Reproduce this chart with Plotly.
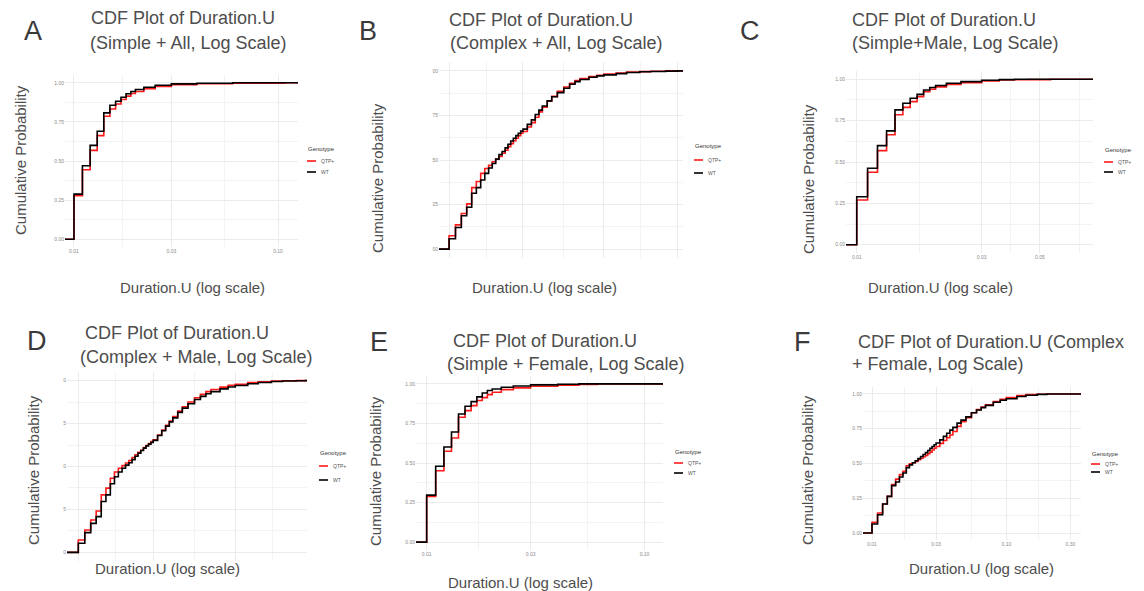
import plotly.graph_objects as go

W, H = 1144, 591
OFFSET = 8  # browser default body margin

# ---------------- data ----------------
genotypes = ["QTP+", "WT"]
y_ticks = [0, 0.25, 0.5, 0.75, 1.0]
y_ticklabels = ["0.00", "0.25", "0.50", "0.75", "1.00"]

# A: Simple + All
A_dur = [0.010, 0.011, 0.012, 0.013, 0.014, 0.015, 0.016, 0.017, 0.018, 0.019, 0.020,
         0.022, 0.025, 0.030, 0.040, 0.060, 0.108]
A_wt = [0.288, 0.470, 0.600, 0.690, 0.808, 0.857, 0.882, 0.908, 0.930, 0.944, 0.957,
        0.972, 0.984, 0.993, 0.997, 1.000, 1.000]
A_qtp = [0.278, 0.444, 0.568, 0.662, 0.786, 0.833, 0.865, 0.893, 0.915, 0.932, 0.944,
         0.962, 0.976, 0.988, 0.994, 0.997, 1.000]

# B: Complex + All
B_dur = [0.010, 0.011, 0.012, 0.013, 0.014, 0.015, 0.016, 0.017, 0.018, 0.019, 0.020,
         0.021, 0.022, 0.023, 0.024, 0.025, 0.026, 0.027, 0.028, 0.029, 0.030,
         0.032, 0.034, 0.036, 0.038, 0.040, 0.043, 0.046, 0.050, 0.055, 0.060,
         0.065, 0.070, 0.080, 0.090, 0.100, 0.120, 0.140, 0.170, 0.200, 0.250, 0.300]
B_wt = [0.058, 0.121, 0.187, 0.235, 0.313, 0.345, 0.388, 0.425, 0.455, 0.480, 0.505,
        0.530, 0.548, 0.568, 0.588, 0.607, 0.622, 0.637, 0.650, 0.662, 0.673,
        0.700, 0.725, 0.755, 0.780, 0.803, 0.832, 0.855, 0.878, 0.903, 0.925,
        0.940, 0.952, 0.964, 0.972, 0.978, 0.985, 0.991, 0.995, 0.997, 0.999, 1.000]
B_qtp = [0.075, 0.136, 0.200, 0.254, 0.345, 0.379, 0.425, 0.452, 0.470, 0.490, 0.505,
         0.520, 0.538, 0.555, 0.575, 0.592, 0.608, 0.622, 0.637, 0.650, 0.660,
         0.685, 0.710, 0.740, 0.770, 0.797, 0.830, 0.857, 0.885, 0.910, 0.930,
         0.946, 0.957, 0.968, 0.976, 0.982, 0.988, 0.993, 0.996, 0.998, 1.000, 1.000]

# C: Simple + Male
C_dur = [0.010, 0.011, 0.012, 0.013, 0.014, 0.015, 0.016, 0.017, 0.018, 0.019, 0.020,
         0.022, 0.025, 0.030, 0.035, 0.040, 0.045, 0.055]
C_wt = [0.290, 0.462, 0.599, 0.688, 0.815, 0.855, 0.885, 0.909, 0.935, 0.950, 0.962,
        0.976, 0.986, 0.994, 0.998, 1.000, 1.000, 1.000]
C_qtp = [0.270, 0.438, 0.569, 0.665, 0.786, 0.830, 0.865, 0.895, 0.925, 0.940, 0.954,
         0.968, 0.980, 0.990, 0.996, 0.997, 0.998, 1.000]

# D: Complex + Male
D_dur = [0.010, 0.011, 0.012, 0.013, 0.014, 0.015, 0.016, 0.017, 0.018, 0.019, 0.020,
         0.021, 0.022, 0.023, 0.024, 0.025, 0.026, 0.027, 0.028, 0.029, 0.030,
         0.032, 0.034, 0.036, 0.038, 0.040, 0.043, 0.046, 0.050, 0.055, 0.060,
         0.065, 0.070, 0.080, 0.090, 0.100, 0.120, 0.140, 0.170, 0.200, 0.245, 0.280]
D_wt = [0.053, 0.115, 0.169, 0.208, 0.296, 0.335, 0.400, 0.440, 0.468, 0.490, 0.508,
        0.522, 0.540, 0.560, 0.578, 0.593, 0.607, 0.620, 0.630, 0.640, 0.652,
        0.680, 0.708, 0.735, 0.760, 0.783, 0.815, 0.840, 0.865, 0.890, 0.908,
        0.923, 0.936, 0.952, 0.963, 0.971, 0.982, 0.989, 0.995, 0.998, 0.999, 1.000]
D_qtp = [0.072, 0.130, 0.189, 0.241, 0.335, 0.374, 0.432, 0.468, 0.490, 0.505, 0.520,
         0.535, 0.552, 0.568, 0.582, 0.595, 0.610, 0.622, 0.633, 0.645, 0.656,
         0.683, 0.712, 0.740, 0.765, 0.790, 0.822, 0.848, 0.875, 0.900, 0.920,
         0.936, 0.948, 0.962, 0.972, 0.979, 0.988, 0.993, 0.997, 0.999, 1.000, 1.000]

# E: Simple + Female
E_dur = [0.010, 0.011, 0.012, 0.013, 0.014, 0.015, 0.016, 0.017, 0.018, 0.019, 0.020,
         0.022, 0.025, 0.030, 0.040, 0.050, 0.061]
E_wt = [0.297, 0.479, 0.601, 0.696, 0.810, 0.859, 0.888, 0.918, 0.943, 0.958, 0.968,
        0.979, 0.987, 0.994, 0.998, 1.000, 1.000]
E_qtp = [0.289, 0.451, 0.574, 0.658, 0.789, 0.831, 0.863, 0.895, 0.913, 0.932, 0.947,
         0.964, 0.975, 0.985, 0.992, 0.996, 1.000]

# F: Complex + Female
F_dur = [0.010, 0.011, 0.012, 0.013, 0.014, 0.015, 0.016, 0.017, 0.018, 0.019, 0.020,
         0.021, 0.022, 0.023, 0.024, 0.025, 0.026, 0.027, 0.028, 0.029, 0.030,
         0.032, 0.034, 0.036, 0.038, 0.040, 0.043, 0.046, 0.050, 0.055, 0.060,
         0.065, 0.070, 0.080, 0.090, 0.100, 0.120, 0.140, 0.170, 0.200, 0.300]
F_wt = [0.065, 0.132, 0.209, 0.264, 0.341, 0.367, 0.403, 0.432, 0.470, 0.490, 0.505,
        0.520, 0.535, 0.550, 0.565, 0.578, 0.593, 0.610, 0.622, 0.635, 0.647,
        0.670, 0.695, 0.718, 0.740, 0.760, 0.790, 0.812, 0.835, 0.865, 0.885,
        0.902, 0.918, 0.940, 0.955, 0.966, 0.982, 0.991, 0.997, 1.000, 1.000]
F_qtp = [0.077, 0.144, 0.209, 0.264, 0.348, 0.388, 0.420, 0.444, 0.484, 0.497, 0.505,
         0.515, 0.527, 0.538, 0.548, 0.558, 0.570, 0.582, 0.597, 0.610, 0.622,
         0.645, 0.665, 0.685, 0.705, 0.730, 0.767, 0.800, 0.830, 0.865, 0.888,
         0.906, 0.922, 0.945, 0.962, 0.975, 0.988, 0.995, 0.998, 1.000, 1.000]

panel_letters = ["A", "B", "C", "D", "E", "F"]
panel_titles = [
    ["CDF Plot of Duration.U", "(Simple + All, Log Scale)"],
    ["CDF Plot of Duration.U", "(Complex + All, Log Scale)"],
    ["CDF Plot of Duration.U", "(Simple+Male, Log Scale)"],
    ["CDF Plot of Duration.U", "(Complex + Male, Log Scale)"],
    ["CDF Plot of Duration.U", "(Simple + Female, Log Scale)"],
    ["CDF Plot of Duration.U (Complex", "+ Female, Log Scale)"],
]
panel_data = [(A_dur, A_qtp, A_wt), (B_dur, B_qtp, B_wt), (C_dur, C_qtp, C_wt),
              (D_dur, D_qtp, D_wt), (E_dur, E_qtp, E_wt), (F_dur, F_qtp, F_wt)]

x_major = [[0.01, 0.03, 0.10], [0.01, 0.03, 0.10, 0.30], [0.01, 0.03, 0.05],
           [0.01, 0.03, 0.10, 0.30], [0.01, 0.03, 0.10], [0.01, 0.03, 0.10, 0.30]]
x_major_labels = [["0.01", "0.03", "0.10"], ["", "", "", ""], ["0.01", "0.03", "0.05"],
                  ["", "", "", ""], ["0.01", "0.03", "0.10"], ["0.01", "0.03", "0.10", "0.30"]]
x_minor = [[0.01732, 0.05477], [0.01732, 0.05477, 0.1732], [0.01732, 0.03873, 0.07071],
           [0.01732, 0.05477, 0.1732], [0.01732, 0.05477], [0.01732, 0.05477, 0.1732]]
y_labels = [y_ticklabels, ["00", "25", "50", "75", "00"], y_ticklabels,
            ["0", "5", "0", "5", "0"], y_ticklabels, y_ticklabels]

# ---------------- layout geometry (pixels in the reference picture) ----------------
areas = [(65, 298, 75, 247), (439, 683, 62, 258), (846, 1093, 71, 253),
         (67, 307, 372, 561), (416, 663, 376, 550), (863, 1081, 387, 540)]
x_ranges = [(-2.044, -0.902), (-2.065, -0.490), (-2.041, -1.098),
            (-2.072, -0.543), (-2.049, -0.915), (-2.067, -0.444)]
letter_pos = [(22, 31), (357, 31), (738, 31), (25, 341), (368, 342), (792, 342)]
title_pos = [((89, 18), (88, 43)), ((447, 20), (448, 43)), ((850, 20), (850, 43)),
             ((83, 333), (78, 357)), ((451, 341), (445, 364)), ((856, 342), (850, 364))]
ytitle_pos = [(20, 160), (377, 178), (808, 179), (33, 470), (375, 471), (807, 470)]
xtitle_pos = [(192, 287), (544, 287), (940, 287), (167, 568), (520, 582), (981, 568)]
legend_pos = [(306, 149, 161, 172), (693, 146, 160, 173), (1103, 150, 162, 172),
              (318, 453, 466, 480), (673, 452, 463, 473), (1090, 454, 464, 472)]

colors = {"QTP+": "#ff1a1a", "WT": "#000000"}
TXT = "#4d4d4d"
FONT = "Liberation Sans, Arial, sans-serif"


def px(x):
    return (x - OFFSET) / W


def py(y):
    return 1 - (y - OFFSET) / H


fig = go.Figure()
annotations = []
shapes = []

for i in range(6):
    k = "" if i == 0 else str(i + 1)
    dur, qtp, wt = panel_data[i]
    lo, hi = x_ranges[i]
    for name, cdf in zip(genotypes, [qtp, wt]):
        xs = [10 ** lo] + list(dur) + [10 ** hi]
        ys = [0.0] + list(cdf) + [1.0]
        fig.add_trace(go.Scatter(
            x=xs, y=ys, mode="lines", line=dict(color=colors[name], width=1.6, shape="hv"),
            name=name, showlegend=False, xaxis="x" + k, yaxis="y" + k))

    l, r, t, b = areas[i]
    fig.update_layout(**{
        "xaxis" + k: dict(
            domain=[px(l), px(r)], anchor="y" + k, type="log", range=[lo, hi],
            tickmode="array", tickvals=x_major[i], ticktext=x_major_labels[i],
            showgrid=True, gridcolor="#ebebeb", gridwidth=1, zeroline=False,
            showline=False, ticks="", tickfont=dict(size=5, color="#8a8a8a", family=FONT),
            minor=dict(tickvals=x_minor[i], showgrid=True, gridcolor="#f3f3f3", gridwidth=1),
            fixedrange=True),
        "yaxis" + k: dict(
            domain=[py(b), py(t)], anchor="x" + k, range=[-0.05, 1.05],
            tickmode="array", tickvals=y_ticks, ticktext=y_labels[i],
            showgrid=True, gridcolor="#ebebeb", gridwidth=1, zeroline=False,
            showline=False, ticks="", tickfont=dict(size=5, color="#8a8a8a", family=FONT),
            minor=dict(tickvals=[0.125, 0.375, 0.625, 0.875], showgrid=True,
                       gridcolor="#f3f3f3", gridwidth=1),
            fixedrange=True),
    })

    lx, ly = letter_pos[i]
    annotations.append(dict(text=panel_letters[i], x=px(lx), y=py(ly), xref="paper", yref="paper",
                            xanchor="left", yanchor="middle", showarrow=False,
                            font=dict(size=27, color="#3a3a3a", family=FONT)))
    for line, (tx, ty) in zip(panel_titles[i], title_pos[i]):
        annotations.append(dict(text=line, x=px(tx), y=py(ty), xref="paper", yref="paper",
                                xanchor="left", yanchor="middle", showarrow=False,
                                font=dict(size=18, color=TXT, family=FONT)))
    ax, ay = ytitle_pos[i]
    annotations.append(dict(text="Cumulative Probability", x=px(ax), y=py(ay), xref="paper",
                            yref="paper", xanchor="center", yanchor="middle", textangle=-90,
                            showarrow=False, font=dict(size=15, color=TXT, family=FONT)))
    bx, by = xtitle_pos[i]
    annotations.append(dict(text="Duration.U (log scale)", x=px(bx), y=py(by), xref="paper",
                            yref="paper", xanchor="center", yanchor="middle",
                            showarrow=False, font=dict(size=15, color=TXT, family=FONT)))
    gx, gty, g1, g2 = legend_pos[i]
    annotations.append(dict(text="Genotype", x=px(gx), y=py(gty), xref="paper", yref="paper",
                            xanchor="left", yanchor="middle", showarrow=False,
                            font=dict(size=6, color="#333333", family=FONT)))
    for name, gy in zip(genotypes, [g1, g2]):
        shapes.append(dict(type="line", xref="paper", yref="paper",
                           x0=px(gx + 1), x1=px(gx + 10), y0=py(gy), y1=py(gy),
                           line=dict(color=colors[name], width=1.6)))
        annotations.append(dict(text=name, x=px(gx + 13), y=py(gy), xref="paper", yref="paper",
                                xanchor="left", yanchor="middle", showarrow=False,
                                font=dict(size=5, color="#555555", family=FONT)))

fig.update_layout(
    width=W, height=H, margin=dict(l=0, r=0, t=0, b=0),
    paper_bgcolor="white", plot_bgcolor="white",
    annotations=annotations, shapes=shapes, showlegend=False,
)

fig.write_html("out.html")
